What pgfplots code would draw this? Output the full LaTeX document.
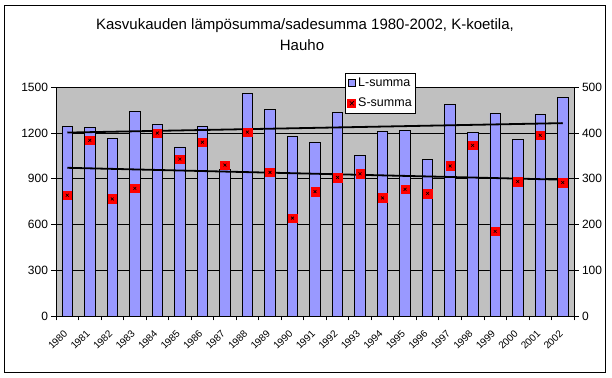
\documentclass[border=0pt]{standalone}
\usepackage{pgfplots}
\pgfplotsset{compat=1.18}
\usepackage{pgfplotstable}
\usepackage{fontspec}
\setmainfont{Liberation Sans}
\definecolor{barblue}{HTML}{9999FF}
\definecolor{plotgray}{HTML}{C0C0C0}

\pgfplotstableread{
x L S
0 1245 264
1 1239 384
2 1166 256
3 1344 279
4 1254 400
5 1109 343
6 1245 380
7 963 330
8 1462 402
9 1357 314
10 1180 214
11 1141 272
12 1337 303
13 1055 311
14 1212 258
15 1219 277
16 1029 268
17 1390 328
18 1206 373
19 1331 185
20 1160 294
21 1324 395
22 1436 292
}\datatable

\pgfplotsset{
  common/.style={
    at={(56pt,61pt)}, anchor=south west,
    scale only axis, width=518pt, height=228.7pt,
    xmin=-0.5, xmax=22.5,
    tick align=outside, major tick length=4.5pt,
    tick style={black, line width=0.8pt},
    ticklabel style={font=\fontsize{12}{14}\selectfont},
    /pgf/number format/assume math mode=true,
    /pgf/number format/1000 sep={},
  }
}

\begin{document}
\begin{tikzpicture}
\path[use as bounding box] (0pt,0pt) rectangle (612pt,377pt);
\draw[black, line width=0.9pt] (4pt,5pt) rectangle (605pt,372pt);
\node[font=\fontsize{15}{17}\selectfont, anchor=base] at (305pt,347.7pt) {Kasvukauden lämpösumma/sadesumma 1980-2002, K-koetila,};
\node[font=\fontsize{15}{17}\selectfont, anchor=base] at (302pt,326.3pt) {Hauho};

\begin{axis}[common,
  ymin=0, ymax=1500, ytick={0,300,...,1500},
  axis x line*=bottom, axis y line*=left,
  axis line style={black, line width=0.8pt},
  axis background/.style={fill=plotgray, draw=gray, line width=0.8pt},
  ymajorgrids, major grid style={black, line width=0.8pt},
  xtick={-0.5,0.5,...,22.5},
  xticklabels={1980,1981,1982,1983,1984,1985,1986,1987,1988,1989,1990,1991,1992,1993,1994,1995,1996,1997,1998,1999,2000,2001,2002,{}},
  xticklabel style={font=\fontsize{10}{12}\selectfont, inner sep=0pt, rotate=45, anchor=north east, xshift=-1pt, yshift=-11pt},
]
\addplot[ybar, bar shift=0pt, bar width=10.5pt, fill=barblue, draw=black, line width=0.8pt] table[x=x, y=L] {\datatable};
\addplot[black, line width=1.8pt] coordinates {(0,1203) (22,1265)};
\end{axis}

\begin{axis}[common,
  ymin=0, ymax=500, ytick={0,100,...,500},
  axis y line*=right, axis x line=none,
  axis line style={black, line width=0.8pt},
  legend style={at={(0.558,1.0638)}, anchor=north west, draw=black, fill=white,
    line width=0.8pt, font=\fontsize{12.5}{14}\selectfont, row sep=6pt,
    inner xsep=2pt, inner ysep=3pt, cells={anchor=west}},
]
\addplot[black, line width=1.8pt, forget plot] coordinates {(0,324) (22,298)};
\addplot[only marks, mark=square*, mark size=4.3pt, mark options={fill=red, draw=red}, forget plot] table[x=x, y=S] {\datatable};
\addplot[only marks, mark=x, mark size=2pt, mark options={black, line width=0.6pt}, forget plot] table[x=x, y=S] {\datatable};
\addlegendimage{legend image code/.code={\draw[fill=barblue, draw=black, line width=0.6pt] (0pt,-3.5pt) rectangle (7pt,3.5pt);}}
\addlegendentry{L-summa}
\addlegendimage{legend image code/.code={\fill[red] (0pt,-4pt) rectangle (8pt,4pt); \draw[black, line width=0.6pt] (2pt,-2pt)--(6pt,2pt) (2pt,2pt)--(6pt,-2pt);}}
\addlegendentry{S-summa}
\end{axis}
\end{tikzpicture}
\end{document}
